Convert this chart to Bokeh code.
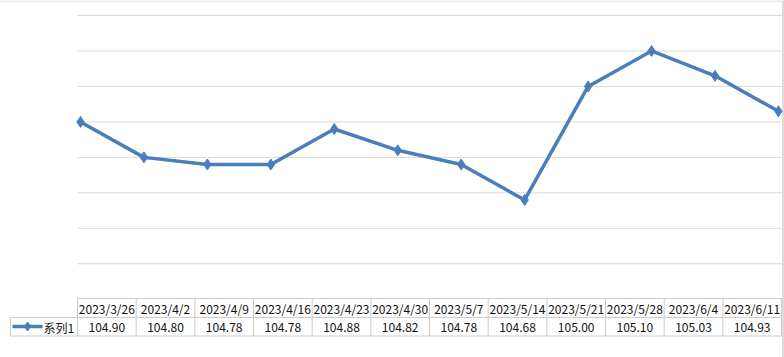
from bokeh.plotting import figure
from bokeh.models import Range1d, ColumnDataSource
from bokeh.core.properties import value
from bokeh.embed import file_html
from bokeh.resources import INLINE

# ---- data ----
dates = ["2023/3/26", "2023/4/2", "2023/4/9", "2023/4/16", "2023/4/23", "2023/4/30",
         "2023/5/7", "2023/5/14", "2023/5/21", "2023/5/28", "2023/6/4", "2023/6/11"]
series1 = [104.90, 104.80, 104.78, 104.78, 104.88, 104.82,
           104.78, 104.68, 105.00, 105.10, 105.03, 104.93]
series_name = "系列1"
grid_values = [104.5, 104.6, 104.7, 104.8, 104.9, 105.0, 105.1, 105.2]

# ---- layout (pixel geometry) ----
W, H = 784, 357
X0PX, DX = 80.0, 63.45          # pixel of first category, pixel step
Y_REF, Y_REF_PX, PX_PER_UNIT = 105.2, 15.0, 354.7


def px2x(px):
    return (px - X0PX) / DX


def py2y(py):
    return Y_REF - (py - Y_REF_PX) / PX_PER_UNIT


p = figure(width=W, height=H, output_backend="svg", toolbar_location=None,
           x_range=Range1d(px2x(0), px2x(W)), y_range=Range1d(py2y(H), py2y(0)),
           min_border=0, min_border_left=0, min_border_right=0,
           min_border_top=0, min_border_bottom=0)
p.axis.visible = False
p.grid.visible = False
p.outline_line_color = None
p.background_fill_color = "white"
p.border_fill_color = "white"

GRID_C = "#d9d9d9"
TAB_C = "#cccccc"
BLUE = "#4a7ebb"
FONT = value("Noto Sans CJK SC")

# gridlines
p.segment(x0=[px2x(77)] * len(grid_values), x1=[px2x(782)] * len(grid_values),
          y0=grid_values, y1=grid_values, line_color=GRID_C, line_width=1)

# chart borders (top, right)
p.segment(x0=[px2x(0)], x1=[px2x(W)], y0=[py2y(0.5)], y1=[py2y(0.5)],
          line_color=GRID_C, line_width=1)
p.segment(x0=[px2x(782.5)], x1=[px2x(782.5)], y0=[py2y(0)], y1=[py2y(H)],
          line_color="#d0d0d0", line_width=1.5)

# series
xs = list(range(len(series1)))
src = ColumnDataSource(dict(x=xs, y=series1))
p.line("x", "y", source=src, line_color=BLUE, line_width=3.5, line_join="round")
p.scatter("x", "y", source=src, marker="diamond", size=11, fill_color=BLUE,
          line_color=BLUE)

# ---- data table ----
T_LEFT, T_RIGHT = 77.0, 781.0
COLW = (T_RIGHT - T_LEFT) / len(dates)
R_TOP, R_MID, R_BOT = 298.0, 317.0, 335.5
L_LEFT = 10.0

# horizontal lines
p.segment(x0=[px2x(T_LEFT), px2x(L_LEFT), px2x(L_LEFT)],
          x1=[px2x(T_RIGHT)] * 3,
          y0=[py2y(R_TOP), py2y(R_MID), py2y(R_BOT)],
          y1=[py2y(R_TOP), py2y(R_MID), py2y(R_BOT)],
          line_color=TAB_C, line_width=1)
# vertical lines
edges = [T_LEFT + i * COLW for i in range(len(dates) + 1)]
p.segment(x0=[px2x(e) for e in edges], x1=[px2x(e) for e in edges],
          y0=[py2y(R_TOP)] * len(edges), y1=[py2y(R_BOT)] * len(edges),
          line_color=TAB_C, line_width=1)
p.segment(x0=[px2x(L_LEFT)], x1=[px2x(L_LEFT)], y0=[py2y(R_MID)], y1=[py2y(R_BOT)],
          line_color=TAB_C, line_width=1)

centers = [px2x(T_LEFT + (i + 0.5) * COLW) for i in range(len(dates))]
p.text(x=centers, y=[py2y(308)] * len(dates), text=dates,
       text_font=FONT, text_font_size="12px", text_color="#111111",
       text_align="center", text_baseline="middle")
p.text(x=centers, y=[py2y(326.5)] * len(dates), text=[f"{v:.2f}" for v in series1],
       text_font=FONT, text_font_size="12px", text_color="#111111",
       text_align="center", text_baseline="middle")

# legend key in table
p.line(x=[px2x(12), px2x(42)], y=[py2y(326)] * 2, line_color=BLUE, line_width=3.5)
p.scatter(x=[px2x(27)], y=[py2y(326)], marker="diamond", size=9,
          fill_color=BLUE, line_color=BLUE)
p.text(x=[px2x(43)], y=[py2y(326.5)], text=[series_name], text_font=FONT,
       text_font_size="12px", text_color="#111111", text_align="left",
       text_baseline="middle")

open("out.html", "w").write(file_html(p, INLINE))
